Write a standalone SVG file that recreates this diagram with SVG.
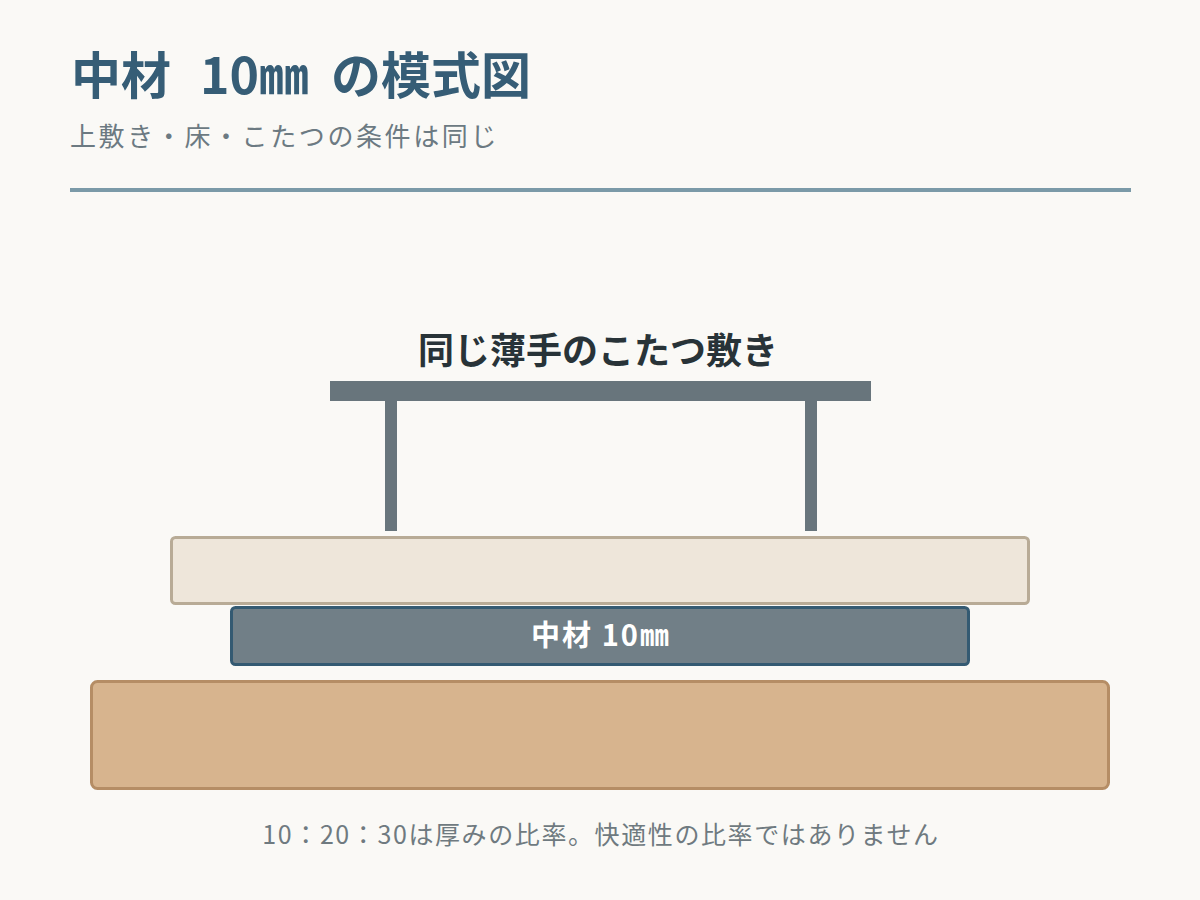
<svg xmlns="http://www.w3.org/2000/svg" width="1200" height="900" viewBox="0 0 1200 900">
  <style>
    text { font-family: "Noto Sans CJK JP", "Noto Sans", sans-serif; }
    .title { font-size: 50px; font-weight: 700; fill: #365d76; }
    .sub { font-size: 26px; fill: #6c7a82; letter-spacing: 2.6px; }
    .label { font-size: 36px; font-weight: 700; fill: #283338; }
    .inner { font-size: 29px; font-weight: 700; fill: #ffffff; letter-spacing: 2px; }
    .note { font-size: 25px; fill: #6f7a80; letter-spacing: 1.6px; }
    .bar { fill: #68757c; }
  </style>
  <rect x="0" y="0" width="1200" height="900" fill="#faf9f6"/>
  <g id="header">
    <text class="title" y="94"><tspan x="71">中材</tspan> <tspan x="200">10㎜</tspan> <tspan x="331">の模式図</tspan></text>
    <text class="sub" x="70" y="146">上敷き・床・こたつの条件は同じ</text>
    <rect x="70" y="188" width="1061" height="4" fill="#7b9aa8"/>
  </g>
  <g id="kotatsu">
    <text class="label" x="598" y="364" text-anchor="middle">同じ薄手のこたつ敷き</text>
    <rect class="bar" x="330" y="381" width="541" height="20"/>
    <rect class="bar" x="385" y="401" width="12" height="130"/>
    <rect class="bar" x="805" y="401" width="12" height="130"/>
  </g>
  <g id="futon">
    <rect x="171.5" y="537.5" width="857" height="66" rx="4" fill="#eee6da" stroke="#b8ab96" stroke-width="3"/>
  </g>
  <g id="core">
    <rect x="231.5" y="607.5" width="737" height="57" rx="4" fill="#717f87" stroke="#345a72" stroke-width="3"/>
    <text class="inner" x="601" y="646" text-anchor="middle">中材 10㎜</text>
  </g>
  <g id="floor">
    <rect x="91.5" y="681.5" width="1017" height="107" rx="6" fill="#d7b48e" stroke="#b58d65" stroke-width="3"/>
  </g>
  <g id="connectors"></g>
  <g id="footnote">
    <text class="note" x="601" y="844" text-anchor="middle">10：20：30は厚みの比率。快適性の比率ではありません</text>
  </g>
</svg>
